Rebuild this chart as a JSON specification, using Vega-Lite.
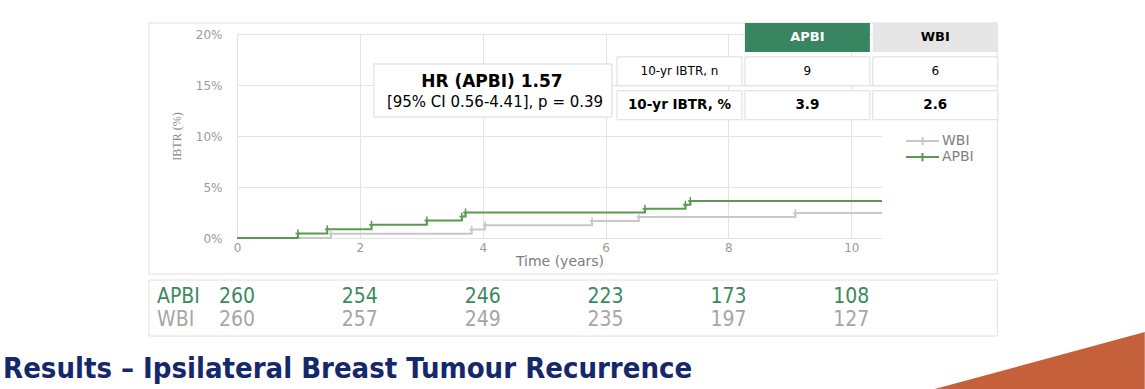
{
  "$schema": "https://vega.github.io/schema/vega-lite/v6.json",
  "width": 645,
  "height": 204,
  "autosize": {"type": "none"},
  "padding": {"left": 237, "top": 34, "right": 263, "bottom": 151},
  "background": "#ffffff",
  "config": {"view": {"stroke": null}},
  "datasets": {
    "km": [
      {"arm": "WBI", "t": 0, "v": 0},
      {"arm": "WBI", "t": 1.53, "v": 0.41},
      {"arm": "WBI", "t": 3.82, "v": 0.83},
      {"arm": "WBI", "t": 4.04, "v": 1.24},
      {"arm": "WBI", "t": 5.78, "v": 1.66},
      {"arm": "WBI", "t": 6.54, "v": 2.05},
      {"arm": "WBI", "t": 9.09, "v": 2.46},
      {"arm": "WBI", "t": 10.5, "v": 2.46},
      {"arm": "APBI", "t": 0, "v": 0},
      {"arm": "APBI", "t": 0.99, "v": 0.44},
      {"arm": "APBI", "t": 1.47, "v": 0.87},
      {"arm": "APBI", "t": 2.19, "v": 1.29},
      {"arm": "APBI", "t": 3.09, "v": 1.71},
      {"arm": "APBI", "t": 3.66, "v": 2.1},
      {"arm": "APBI", "t": 3.72, "v": 2.5},
      {"arm": "APBI", "t": 6.64, "v": 2.87},
      {"arm": "APBI", "t": 7.3, "v": 3.25},
      {"arm": "APBI", "t": 7.38, "v": 3.63},
      {"arm": "APBI", "t": 10.5, "v": 3.63}
    ],
    "risk": [
      {"arm": "APBI", "t": 0, "n": 260},
      {"arm": "APBI", "t": 2, "n": 254},
      {"arm": "APBI", "t": 4, "n": 246},
      {"arm": "APBI", "t": 6, "n": 223},
      {"arm": "APBI", "t": 8, "n": 173},
      {"arm": "APBI", "t": 10, "n": 108},
      {"arm": "WBI", "t": 0, "n": 260},
      {"arm": "WBI", "t": 2, "n": 257},
      {"arm": "WBI", "t": 4, "n": 249},
      {"arm": "WBI", "t": 6, "n": 235},
      {"arm": "WBI", "t": 8, "n": 197},
      {"arm": "WBI", "t": 10, "n": 127}
    ],
    "table": [
      {"row": 0, "col": 1, "text": "APBI"},
      {"row": 0, "col": 2, "text": "WBI"},
      {"row": 1, "col": 0, "text": "10-yr IBTR, n"},
      {"row": 1, "col": 1, "text": "9"},
      {"row": 1, "col": 2, "text": "6"},
      {"row": 2, "col": 0, "text": "10-yr IBTR, %"},
      {"row": 2, "col": 1, "text": "3.9"},
      {"row": 2, "col": 2, "text": "2.6"}
    ]
  },
  "layer": [
    {
      "layer": [
        {
          "data": {"values": [{}]},
          "mark": {"type": "rect", "fill": "transparent", "stroke": "#e0e0e0", "strokeWidth": 1},
          "encoding": {
            "x": {"datum": -1.432, "type": "quantitative"},
            "x2": {"datum": 12.376},
            "y": {"datum": 21.08, "type": "quantitative"},
            "y2": {"datum": -3.53}
          }
        },
        {
          "data": {"values": [{}]},
          "mark": {"type": "rect", "fill": "transparent", "stroke": "#e0e0e0", "strokeWidth": 1},
          "encoding": {
            "x": {"datum": -1.432, "type": "quantitative"},
            "x2": {"datum": 12.376},
            "y": {"datum": -4.12, "type": "quantitative"},
            "y2": {"datum": -9.61}
          }
        },
        {
          "data": {"name": "km"},
          "mark": {"type": "line", "interpolate": "step-after", "strokeWidth": 2},
          "encoding": {
            "x": {
              "field": "t", "type": "quantitative",
              "scale": {"domain": [0, 10.5], "nice": false, "zero": false},
              "axis": {
                "values": [0, 2, 4, 6, 8, 10], "format": "d", "grid": true, "gridColor": "#e3e3e3",
                "domain": false, "ticks": false, "labelFlush": false,
                "labelFont": "DejaVu Sans", "labelFontSize": 12, "labelColor": "#9b9b9b", "labelPadding": 4,
                "title": "Time (years)", "titleFont": "DejaVu Sans", "titleFontSize": 14,
                "titleFontWeight": "normal", "titleColor": "#7d7d7d", "titlePadding": 1
              }
            },
            "y": {
              "field": "v", "type": "quantitative",
              "scale": {"domain": [0, 20], "nice": false, "zero": false},
              "axis": {
                "values": [0, 5, 10, 15, 20], "grid": true, "gridColor": "#e3e3e3",
                "domain": false, "ticks": false, "labelFlush": false,
                "labelExpr": "datum.value + '%'",
                "labelFont": "DejaVu Sans", "labelFontSize": 12, "labelColor": "#9b9b9b", "labelPadding": 15,
                "title": "IBTR (%)", "titleFont": "Liberation Serif", "titleFontSize": 12,
                "titleFontWeight": "normal", "titleColor": "#8a8a8a", "titlePadding": 12
              }
            },
            "color": {
              "field": "arm", "type": "nominal",
              "scale": {"domain": ["WBI", "APBI"], "range": ["#c8c8c8", "#5a9a4f"]},
              "legend": {
                "orient": "none", "legendX": 668, "legendY": 99, "title": null,
                "symbolType": "M-1,0L1,0M0,-0.25L0,0.25", "symbolSize": 1089,
                "symbolStrokeWidth": 2, "clipHeight": 16, "padding": 0, "rowPadding": 0,
                "labelFont": "DejaVu Sans", "labelFontSize": 14, "labelColor": "#808080", "labelOffset": 2
              }
            }
          }
        },
        {
          "data": {"name": "km"},
          "transform": [{"filter": "datum.t > 0 && datum.t < 10.5"}],
          "mark": {"type": "point", "shape": "M0,-1L0,1M-0.6,0L0.6,0", "size": 64, "filled": false, "strokeWidth": 1.5, "opacity": 1},
          "encoding": {
            "x": {"field": "t", "type": "quantitative"},
            "y": {"field": "v", "type": "quantitative"},
            "stroke": {
              "field": "arm", "type": "nominal",
              "scale": {"domain": ["WBI", "APBI"], "range": ["#c8c8c8", "#5a9a4f"]},
              "legend": null
            }
          }
        },
        {
          "data": {"values": [{}]},
          "mark": {"type": "rect", "fill": "#ffffff", "stroke": "#d9d9d9", "strokeWidth": 1},
          "encoding": {
            "x": {"datum": 2.229, "type": "quantitative"},
            "x2": {"datum": 6.103},
            "y": {"datum": 17.06, "type": "quantitative"},
            "y2": {"datum": 11.86}
          }
        },
        {
          "data": {"values": [{}]},
          "mark": {"type": "text", "text": "HR (APBI) 1.57", "font": "DejaVu Sans", "fontWeight": "bold", "fontSize": 17, "color": "#000000", "align": "center", "baseline": "middle"},
          "encoding": {
            "x": {"datum": 4.15, "type": "quantitative"},
            "y": {"datum": 15.29, "type": "quantitative"}
          }
        },
        {
          "data": {"values": [{}]},
          "mark": {"type": "text", "text": "[95% CI 0.56-4.41], p = 0.39", "font": "DejaVu Sans", "fontSize": 15, "color": "#000000", "align": "center", "baseline": "middle"},
          "encoding": {
            "x": {"datum": 4.2, "type": "quantitative"},
            "y": {"datum": 13.33, "type": "quantitative"}
          }
        },
        {
          "data": {"values": [{}]},
          "mark": {"type": "text", "text": "APBI", "font": "Liberation Sans Narrow, DejaVu Sans Condensed, sans-serif", "fontSize": 21, "color": "#3b8a5d", "align": "left", "baseline": "middle"},
          "encoding": {
            "x": {"datum": -1.302, "type": "quantitative"},
            "y": {"datum": -5.78, "type": "quantitative"}
          }
        },
        {
          "data": {"values": [{}]},
          "mark": {"type": "text", "text": "WBI", "font": "Liberation Sans Narrow, DejaVu Sans Condensed, sans-serif", "fontSize": 21, "color": "#a6a6a6", "align": "left", "baseline": "middle"},
          "encoding": {
            "x": {"datum": -1.302, "type": "quantitative"},
            "y": {"datum": -8.04, "type": "quantitative"}
          }
        },
        {
          "data": {"name": "risk"},
          "transform": [{"filter": "datum.arm === 'APBI'"}],
          "mark": {"type": "text", "font": "Liberation Sans Narrow, DejaVu Sans Condensed, sans-serif", "fontSize": 21, "color": "#3b8a5d", "align": "center", "baseline": "middle"},
          "encoding": {
            "x": {"field": "t", "type": "quantitative"},
            "y": {"datum": -5.78, "type": "quantitative"},
            "text": {"field": "n", "type": "quantitative"}
          }
        },
        {
          "data": {"name": "risk"},
          "transform": [{"filter": "datum.arm === 'WBI'"}],
          "mark": {"type": "text", "font": "Liberation Sans Narrow, DejaVu Sans Condensed, sans-serif", "fontSize": 21, "color": "#a6a6a6", "align": "center", "baseline": "middle"},
          "encoding": {
            "x": {"field": "t", "type": "quantitative"},
            "y": {"datum": -8.04, "type": "quantitative"},
            "text": {"field": "n", "type": "quantitative"}
          }
        },
        {
          "data": {"values": [{}]},
          "mark": {"type": "text", "text": "Results – Ipsilateral Breast Tumour Recurrence", "font": "DejaVu Sans Condensed, Liberation Sans Narrow, sans-serif", "fontWeight": "bold", "fontSize": 29, "color": "#15286b", "align": "left", "baseline": "alphabetic"},
          "encoding": {
            "x": {"datum": -3.808, "type": "quantitative"},
            "y": {"datum": -13.7, "type": "quantitative"}
          }
        },
        {
          "data": {"values": [{}]},
          "mark": {"type": "point", "shape": "M-1,0.2714L1,-0.2714L1,0.2714Z", "size": 44100, "filled": true, "color": "#c4613a", "opacity": 1, "strokeWidth": 0},
          "encoding": {
            "x": {"datum": 13.068, "type": "quantitative"},
            "y": {"datum": -12.01, "type": "quantitative"}
          }
        }
      ]
    },
    {
      "layer": [
        {
          "data": {"name": "table"},
          "mark": {"type": "rect", "width": 125, "height": 29, "strokeWidth": 1},
          "encoding": {
            "x": {"field": "col", "type": "quantitative", "scale": {"domain": [-3.4597, 1.5833], "nice": false, "zero": false}, "axis": null},
            "y": {"field": "row", "type": "quantitative", "scale": {"domain": [-0.1033, 5.9188], "nice": false, "zero": false, "reverse": true}, "axis": null},
            "fill": {
              "condition": [
                {"test": "datum.row === 0 && datum.col === 1", "value": "#3a8561"},
                {"test": "datum.row === 0", "value": "#e6e6e6"}
              ],
              "value": "#ffffff"
            },
            "stroke": {
              "condition": {"test": "datum.row === 0", "value": "transparent"},
              "value": "#dcdcdc"
            }
          }
        },
        {
          "data": {"name": "table"},
          "transform": [{"filter": "datum.row === 0"}],
          "mark": {"type": "text", "font": "DejaVu Sans", "fontWeight": "bold", "fontSize": 13, "align": "center", "baseline": "middle"},
          "encoding": {
            "x": {"field": "col", "type": "quantitative"},
            "y": {"field": "row", "type": "quantitative"},
            "text": {"field": "text", "type": "nominal"},
            "color": {"condition": {"test": "datum.col === 1", "value": "#ffffff"}, "value": "#000000"}
          }
        },
        {
          "data": {"name": "table"},
          "transform": [{"filter": "datum.row === 1"}],
          "mark": {"type": "text", "font": "DejaVu Sans", "fontSize": 12, "color": "#000000", "align": "center", "baseline": "middle"},
          "encoding": {
            "x": {"field": "col", "type": "quantitative"},
            "y": {"field": "row", "type": "quantitative"},
            "text": {"field": "text", "type": "nominal"}
          }
        },
        {
          "data": {"name": "table"},
          "transform": [{"filter": "datum.row === 2"}],
          "mark": {"type": "text", "font": "DejaVu Sans", "fontWeight": "bold", "fontSize": 13.5, "color": "#000000", "align": "center", "baseline": "middle"},
          "encoding": {
            "x": {"field": "col", "type": "quantitative"},
            "y": {"field": "row", "type": "quantitative"},
            "text": {"field": "text", "type": "nominal"}
          }
        }
      ]
    }
  ],
  "resolve": {"scale": {"x": "independent", "y": "independent"}}
}
